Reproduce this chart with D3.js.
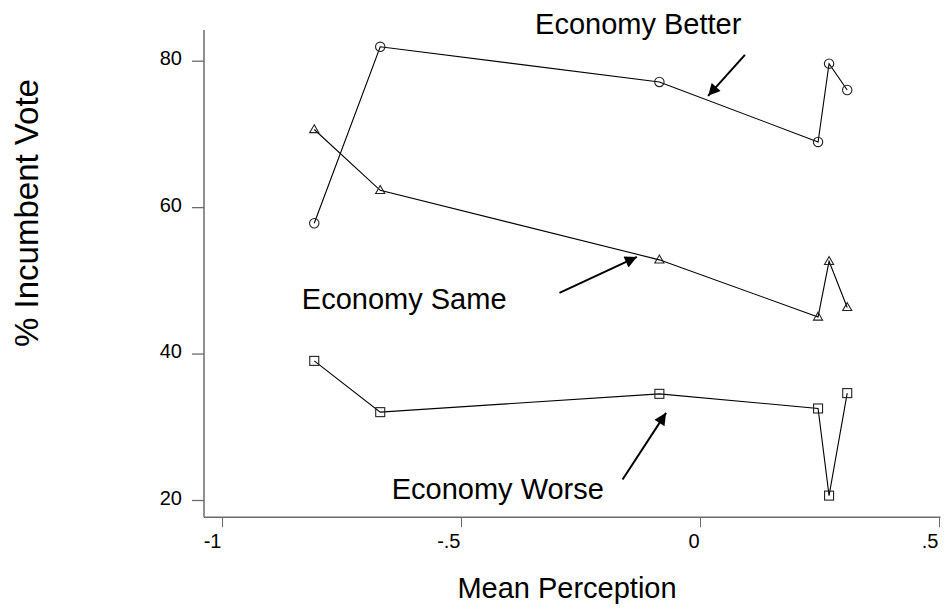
<!DOCTYPE html>
<html>
<head>
<meta charset="utf-8">
<script src="https://cdn.jsdelivr.net/npm/d3@7"></script>
<style>
  body { margin: 0; background: #fff; }
  text { font-family: Arial, "Liberation Sans", sans-serif; fill: #000; }
</style>
</head>
<body>
<div id="chart"></div>
<script>
var width = 947,
    height = 609;

// mean perception (x) for each of the six points
var perception = [-0.807, -0.669, -0.085, 0.247, 0.270, 0.308];

var betterVote = [57.8, 81.9, 77.1, 68.9, 79.6, 76.0];
var sameVote   = [70.6, 62.3, 52.8, 45.0, 52.6, 46.3];
var worseVote  = [39.0, 32.0, 34.5, 32.5, 20.6, 34.6];

var xTicks = [-1, -0.5, 0, 0.5];
var xTickLabels = ["-1", "-.5", "0", ".5"];
var yTicks = [20, 40, 60, 80];

var series = [
  { name: "Economy Better", values: betterVote, marker: "circle" },
  { name: "Economy Same",   values: sameVote,   marker: "triangle" },
  { name: "Economy Worse",  values: worseVote,  marker: "square" }
];

// label text (left/baseline) and arrows, in data units
var notes = [
  { text: "Economy Better", tx: -0.345, ty: 83.7, from: [0.094, 80.8], to: [0.017, 75.2] },
  { text: "Economy Same",   tx: -0.833, ty: 46.1, from: [-0.294, 48.3], to: [-0.132, 53.2] },
  { text: "Economy Worse",  tx: -0.645, ty: 20.2, from: [-0.162, 22.8], to: [-0.071, 31.9] }
];

var svg = d3.select("#chart").append("svg")
    .attr("width", width)
    .attr("height", height);

var x = d3.scaleLinear().domain([-1, 0.5]).range([222, 939]);
var y = d3.scaleLinear().domain([20, 80]).range([500, 60.7]);

var axisColor = "#6b6b6b";

// arrow head
svg.append("defs").append("marker")
    .attr("id", "head")
    .attr("viewBox", "0 0 10 10")
    .attr("refX", 10).attr("refY", 5)
    .attr("markerWidth", 17).attr("markerHeight", 12)
    .attr("markerUnits", "userSpaceOnUse")
    .attr("orient", "auto")
  .append("path")
    .attr("d", "M0,0L10,5L0,10Z")
    .attr("fill", "#000");

// axis lines
svg.append("line")
    .attr("x1", 204).attr("x2", 204)
    .attr("y1", y(84.2)).attr("y2", y(17.64))
    .attr("stroke", axisColor).attr("stroke-width", 1.5);
svg.append("line")
    .attr("x1", 204).attr("x2", x(0.503))
    .attr("y1", y(17.64)).attr("y2", y(17.64))
    .attr("stroke", axisColor).attr("stroke-width", 1.5);

var yAxis = svg.append("g")
    .attr("transform", "translate(204,0)")
    .call(d3.axisLeft(y).tickValues(yTicks).tickSize(12).tickPadding(10));
yAxis.select(".domain").remove();
yAxis.selectAll(".tick line").attr("stroke", axisColor).attr("stroke-width", 1.3);
yAxis.selectAll(".tick text")
    .attr("font-size", 20)
    .attr("dy", "0.2em")
    .style("font-family", "Arial, 'Liberation Sans', sans-serif");

var xAxis = svg.append("g")
    .attr("transform", "translate(0," + y(17.64) + ")")
    .call(d3.axisBottom(x).tickValues(xTicks).tickSize(10)
      .tickFormat(function(d, i) { return xTickLabels[i]; }));
xAxis.select(".domain").remove();
xAxis.selectAll(".tick line").attr("stroke", axisColor).attr("stroke-width", 1);
xAxis.selectAll(".tick text")
    .attr("font-size", 20)
    .attr("text-anchor", "end")
    .attr("x", -1)
    .attr("y", 31)
    .attr("dy", 0)
    .style("font-family", "Arial, 'Liberation Sans', sans-serif");

// series lines
var line = d3.line()
    .x(function(d, i) { return x(perception[i]); })
    .y(function(d) { return y(d); });

svg.selectAll(".series")
    .data(series)
  .enter().append("path")
    .attr("class", "series")
    .attr("d", function(s) { return line(s.values); })
    .attr("fill", "none")
    .attr("stroke", "#000")
    .attr("stroke-width", 1.1);

// markers
var tri = d3.symbol().type(d3.symbolTriangle).size(36);
series.forEach(function(s) {
  var g = svg.append("g");
  s.values.forEach(function(v, i) {
    var px = x(perception[i]), py = y(v);
    if (s.marker == "circle") {
      g.append("circle").attr("cx", px).attr("cy", py).attr("r", 4.7);
    } else if (s.marker == "square") {
      g.append("rect").attr("x", px - 4.5).attr("y", py - 4.5)
        .attr("width", 9).attr("height", 9);
    } else {
      g.append("path").attr("d", tri())
        .attr("transform", "translate(" + px + "," + (py + 0.5) + ")");
    }
  });
  g.selectAll("*").attr("fill", "none").attr("stroke", "#222").attr("stroke-width", 1.1);
});

// annotations
notes.forEach(function(n) {
  svg.append("text")
    .attr("x", x(n.tx)).attr("y", y(n.ty))
    .attr("font-size", 29)
    .text(n.text);
  svg.append("line")
    .attr("x1", x(n.from[0])).attr("y1", y(n.from[1]))
    .attr("x2", x(n.to[0])).attr("y2", y(n.to[1]))
    .attr("stroke", "#000").attr("stroke-width", 2)
    .attr("marker-end", "url(#head)");
});

// axis titles
svg.append("text")
    .attr("x", 567).attr("y", 598)
    .attr("text-anchor", "middle")
    .attr("font-size", 29)
    .text("Mean Perception");

svg.append("text")
    .attr("transform", "translate(38,213) rotate(-90)")
    .attr("text-anchor", "middle")
    .attr("font-size", 33)
    .text("% Incumbent Vote");
</script>
</body>
</html>
